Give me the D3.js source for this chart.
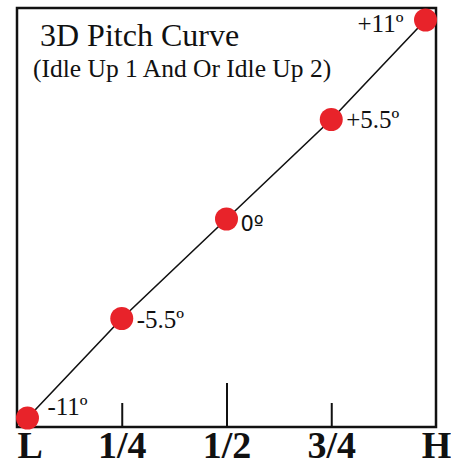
<!DOCTYPE html>
<html>
<head>
<meta charset="utf-8">
<script src="https://cdn.jsdelivr.net/npm/d3@7"></script>
<style>
  body { margin: 0; background: #fff; }
  svg { display: block; }
</style>
</head>
<body>
<svg id="chart"></svg>
<script>
// stick positions along the throttle, as fractions of full travel
var tickValues = [0, 0.25, 0.5, 0.75, 1];
var tickLabels = ['L', '1/4', '1/2', '3/4', 'H'];
var tickLengths = [0, 24, 44, 24, 0];

// measured points of the curve (x = stick fraction, y = pitch in degrees)
var pointStick = [0.025, 0.25, 0.5, 0.75, 0.975];
var pointPitch = [-11, -5.5, 0, 5.5, 11];
var pointLabels = ['-11º', '-5.5º', '0º', '+5.5º', '+11º'];

var W = 451, H = 466;
var box = { left: 17, right: 436, top: 8, bottom: 427 };
var serif = '"Liberation Serif", "Times New Roman", serif';

var svg = d3.select('#chart').attr('width', W).attr('height', H);

var x = d3.scaleLinear().domain([0, 1]).range([box.left, box.right]);
var y = d3.scaleLinear().domain([-11, 11]).range([418, 20]);

// frame
svg.append('rect')
	.attr('x', box.left).attr('y', box.top)
	.attr('width', box.right - box.left).attr('height', box.bottom - box.top)
	.attr('fill', 'none').attr('stroke', '#111').attr('stroke-width', 2.5);

// axis with upward ticks of different lengths
var xAxis = d3.axisBottom(x)
	.tickValues(tickValues)
	.tickFormat(function(d, i) { return tickLabels[i]; })
	.tickSizeOuter(0);

var axisG = svg.append('g')
	.attr('transform', 'translate(0,' + box.bottom + ')')
	.call(xAxis);

axisG.select('.domain').remove();
axisG.selectAll('.tick line')
	.attr('y2', function(d, i) { return -tickLengths[i]; })
	.attr('stroke', '#111')
	.attr('stroke-width', 2);
axisG.selectAll('.tick text')
	.attr('y', 30.5)
	.attr('dy', 0)
	.attr('fill', '#111')
	.style('font-family', serif)
	.style('font-weight', 'bold')
	.style('font-size', '38px')
	.attr('text-anchor', function(d, i) { return i === 0 ? 'start' : 'middle'; });

// title
svg.append('text')
	.attr('x', 40).attr('y', 46)
	.style('font-family', serif)
	.style('font-size', '32px')
	.attr('fill', '#111')
	.text('3D Pitch Curve');

svg.append('text')
	.attr('x', 33).attr('y', 77)
	.style('font-family', serif)
	.style('font-size', '25.5px')
	.attr('fill', '#111')
	.text('(Idle Up 1 And Or Idle Up 2)');

var points = pointStick.map(function(s, i) {
	return { s: s, p: pointPitch[i], label: pointLabels[i] };
});

// curve
var line = d3.line()
	.x(function(d) { return x(d.s); })
	.y(function(d) { return y(d.p); });

svg.append('path')
	.datum(points)
	.attr('d', line)
	.attr('fill', 'none')
	.attr('stroke', '#111')
	.attr('stroke-width', 1.6);

svg.append('g').selectAll('circle')
	.data(points)
	.enter()
	.append('circle')
	.attr('cx', function(d) { return x(d.s); })
	.attr('cy', function(d) { return y(d.p); })
	.attr('r', 11.5)
	.attr('fill', '#e8232a');

// point labels: top one sits left of its dot, the rest to the right
var labelOffsets = [[20, -3], [15, 9], [14, 12], [15, 8], [-68, 12]];

svg.append('g').selectAll('text')
	.data(points)
	.enter()
	.append('text')
	.attr('x', function(d, i) { return x(d.s) + labelOffsets[i][0]; })
	.attr('y', function(d, i) { return y(d.p) + labelOffsets[i][1]; })
	.style('font-family', function(d) {
		return d.p === 0 ? '"DejaVu Sans", sans-serif' : serif;
	})
	.style('font-size', function(d) { return d.p === 0 ? '21px' : '25px'; })
	.attr('fill', '#111')
	.text(function(d) { return d.label; });
</script>
</body>
</html>
